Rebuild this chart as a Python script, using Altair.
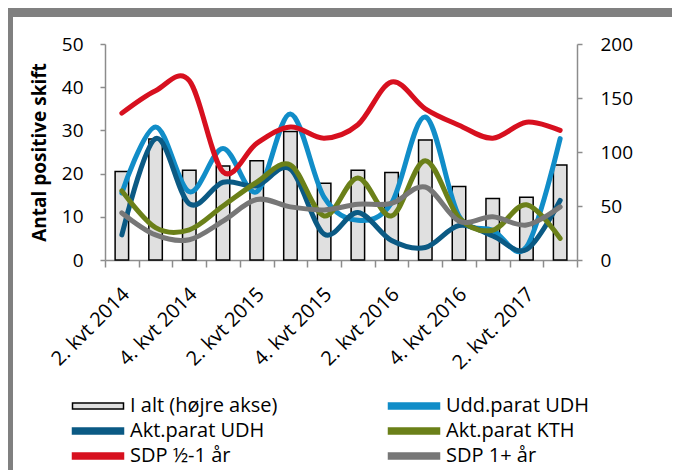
import altair as alt
import pandas as pd

categories = ["2. kvt 2014", "3. kvt 2014", "4. kvt 2014", "1. kvt 2015", "2. kvt 2015",
              "3. kvt 2015", "4. kvt 2015", "1. kvt 2016", "2. kvt 2016", "3. kvt 2016",
              "4. kvt 2016", "1. kvt 2017", "2. kvt. 2017", "3. kvt 2017"]
shown_labels = ["2. kvt 2014", "4. kvt 2014", "2. kvt 2015", "4. kvt 2015",
                "2. kvt 2016", "4. kvt 2016", "2. kvt. 2017"]

i_alt = [82, 112, 83, 87, 92, 119, 71, 83, 81, 111, 68, 57, 58, 88]
udd_parat_udh = [15.5, 30.8, 15.8, 25.8, 15.8, 33.8, 14.5, 9.2, 13.2, 33.1, 10.2, 6.9, 3.0, 28.1]
akt_parat_udh = [5.8, 28.1, 13.0, 18.0, 17.2, 21.0, 6.0, 11.0, 4.5, 2.9, 8.0, 5.6, 2.4, 13.8]
akt_parat_kth = [16.0, 7.5, 7.0, 12.5, 18.0, 22.0, 10.2, 19.0, 10.2, 23.0, 9.8, 6.9, 12.8, 5.0]
sdp_half = [34.0, 39.2, 41.5, 20.4, 27.0, 30.8, 28.2, 31.3, 41.2, 35.0, 31.2, 28.2, 31.9, 30.0]
sdp_1plus = [10.9, 5.8, 4.7, 9.0, 14.0, 12.3, 11.6, 12.9, 13.1, 16.9, 9.0, 10.0, 8.1, 12.3]

# series names, in the legend's column-by-column order
bar_name = "I alt (højre akse)"
line_names = ["Udd.parat UDH", "Akt.parat UDH", "Akt.parat KTH", "SDP ½-1 år", "SDP 1+ år"]
legend_order = ["I alt (højre akse)", "Akt.parat UDH", "SDP ½-1 år",
                "Udd.parat UDH", "Akt.parat KTH", "SDP 1+ år"]
fill_colors = ["#e0e0e0", "#0b5a84", "#d7101f", "#118dc8", "#6b8019", "#777777"]
stroke_colors = ["#000000", "#0b5a84", "#d7101f", "#118dc8", "#6b8019", "#777777"]

FONT = "Open Sans"

bars_df = pd.DataFrame({"kvartal": categories, "antal": i_alt, "serie": bar_name})
line_series = [udd_parat_udh, akt_parat_udh, akt_parat_kth, sdp_half, sdp_1plus]
lines_df = pd.concat(
    [pd.DataFrame({"kvartal": categories, "antal": vals, "serie": name, "rk": k})
     for k, (name, vals) in enumerate(zip(line_names, line_series))],
    ignore_index=True,
)

label_list = "[" + ",".join("'" + s + "'" for s in shown_labels) + "]"

x_enc = alt.X(
    "kvartal:N",
    scale=alt.Scale(domain=categories, paddingInner=0, paddingOuter=0),
    axis=alt.Axis(
        title=None, labelAngle=-45, labelAlign="right", labelBaseline="middle",
        labelExpr=f"indexof({label_list}, datum.value) >= 0 ? datum.value : ''",
        tickBand="extent", tickSize=7, labelPadding=24, labelOffset=4,
        labelFontSize=20, domainWidth=1.5,
    ),
)

legend = alt.Legend(
    title=None, orient="none", legendX=-17, legendY=352, columns=2,
    columnPadding=107, rowPadding=5, padding=0,
    symbolType="M-3,-0.35H3V0.35H-3Z", symbolSize=289, symbolStrokeWidth=1.5,
    labelFontSize=20, labelFont=FONT, labelOffset=22, labelLimit=400,
)

bars = alt.Chart(bars_df).mark_bar(stroke="black", strokeWidth=1.5, width={"band": 0.4}).encode(
    x=x_enc,
    y=alt.Y("antal:Q", scale=alt.Scale(domain=[0, 200]),
            axis=alt.Axis(orient="right", values=[0, 50, 100, 150, 200], title=None,
                          tickSize=5, labelPadding=18, labelFontSize=19, domainWidth=1.5)),
    fill=alt.Fill("serie:N", scale=alt.Scale(domain=legend_order, range=fill_colors), legend=legend),
)

lines = alt.Chart(lines_df).mark_line(
    strokeWidth=5, interpolate="cardinal", strokeCap="round", strokeJoin="round"
).encode(
    x=x_enc,
    y=alt.Y("antal:Q", scale=alt.Scale(domain=[0, 50]),
            axis=alt.Axis(orient="left", values=[0, 10, 20, 30, 40, 50],
                          title="Antal positive skift", titleFontSize=19, titleFontWeight="bold",
                          titlePadding=12, tickSize=5, labelPadding=17, labelFontSize=19,
                          domainWidth=1.5)),
    stroke=alt.Stroke("serie:N", scale=alt.Scale(domain=legend_order, range=stroke_colors), legend=legend),
    order=alt.Order("rk:Q"),
    detail="serie:N",
)

frame_df = pd.DataFrame({"f": [0]})
frame_left = alt.Chart(frame_df).mark_rect(color="#808080").encode(
    x=alt.value(-110), x2=alt.value(-92), y=alt.value(-45), y2=alt.value(430)
)
frame_top = alt.Chart(frame_df).mark_rect(color="#808080").encode(
    x=alt.value(-110), x2=alt.value(580), y=alt.value(-39), y2=alt.value(-27)
)

chart = alt.layer(frame_left, frame_top, bars, lines).resolve_scale(y="independent").properties(
    width=472, height=216,
    autosize=alt.AutoSizeParams(type="none"),
    padding={"left": 97, "top": 36, "right": 95, "bottom": 210},
).configure_view(stroke=None).configure_axis(
    grid=False, domainColor="#8c8c8c", tickColor="#8c8c8c", tickWidth=1.5,
    labelFont=FONT, titleFont=FONT, labelColor="black", titleColor="black",
)

chart.save("out.html", embed_options={"renderer": "svg", "actions": False})
